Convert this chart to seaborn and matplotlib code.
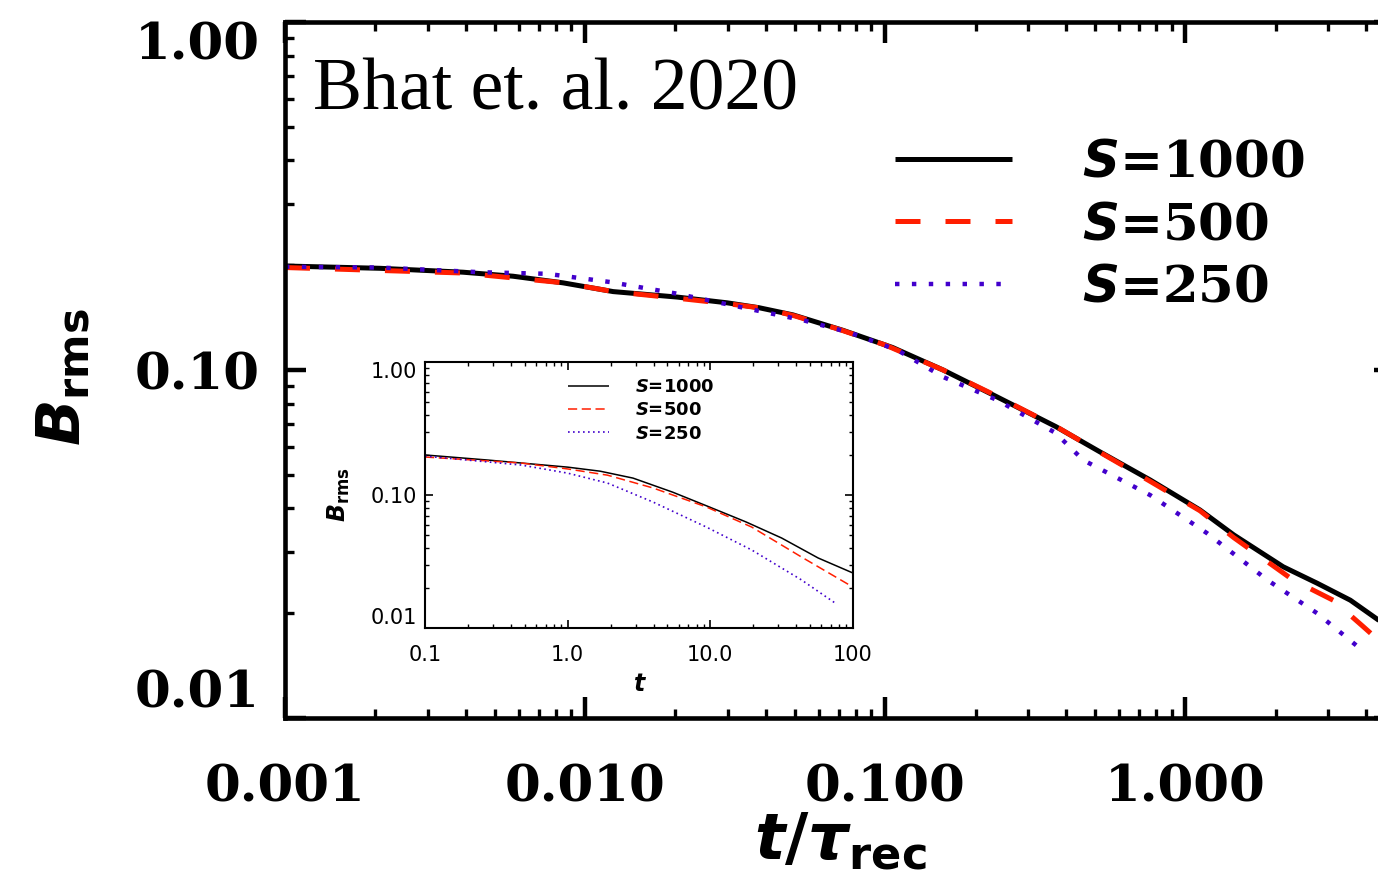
import numpy as np
import pandas as pd
import matplotlib
matplotlib.use("Agg")
import matplotlib.pyplot as plt
import seaborn as sns
from matplotlib.ticker import LogLocator, NullFormatter

# ---- data: B_rms decay for three Lundquist numbers ----
runs = ["1000", "500", "250"]

# main panel: time in units of the reconnection time
main_t_1000 = [0.001, 0.00207, 0.00392, 0.00575, 0.00845, 0.0124, 0.0203, 0.0297, 0.038, 0.0493,
               0.0724, 0.106, 0.156, 0.229, 0.37, 0.521, 0.764, 1.12, 1.45, 2.12, 2.75, 3.55, 4.45]
main_b_1000 = [0.199, 0.196, 0.191, 0.186, 0.178, 0.168, 0.162, 0.156, 0.151, 0.144,
               0.130, 0.116, 0.100, 0.0848, 0.0688, 0.0581, 0.0483, 0.0396, 0.0336, 0.0272, 0.0244, 0.0218, 0.0190]

main_t_500 = [0.001, 0.0039, 0.0085, 0.0124, 0.020, 0.030, 0.040, 0.050, 0.070, 0.100, 0.156,
              0.230, 0.380, 0.520, 0.760, 1.12, 1.45, 2.29, 3.11, 3.92, 4.45]
main_b_500 = [0.197, 0.190, 0.178, 0.168, 0.161, 0.155, 0.150, 0.143, 0.131, 0.118, 0.100,
              0.085, 0.068, 0.058, 0.048, 0.0394, 0.0330, 0.0249, 0.0218, 0.0183, 0.0166]

main_t_250 = [0.001, 0.00207, 0.00447, 0.00747, 0.0121, 0.020, 0.0363, 0.0533, 0.0764,
              0.110, 0.156, 0.236, 0.369, 0.457, 0.764, 1.18, 1.88, 2.75, 3.77]
main_b_250 = [0.198, 0.197, 0.191, 0.189, 0.179, 0.166, 0.149, 0.139, 0.128,
              0.114, 0.0955, 0.082, 0.066, 0.0551, 0.0437, 0.0340, 0.0249, 0.0200, 0.0160]

# inset: time in code units
ins_t_1000 = [0.1, 0.278, 1.0, 1.69, 2.87, 5.45, 9.84, 17.8, 31.6, 57.0, 100.0]
ins_b_1000 = [0.200, 0.183, 0.162, 0.151, 0.134, 0.105, 0.0813, 0.0627, 0.0475, 0.0336, 0.0259]

ins_t_500 = [0.1, 0.47, 1.0, 1.90, 3.96, 9.38, 19.5, 43.5, 100.0]
ins_b_500 = [0.193, 0.174, 0.157, 0.141, 0.113, 0.0813, 0.0574, 0.0342, 0.0203]

ins_t_250 = [0.1, 0.472, 1.0, 1.90, 3.96, 9.38, 19.5, 43.5, 75.0]
ins_b_250 = [0.196, 0.168, 0.146, 0.123, 0.0886, 0.0574, 0.0386, 0.0230, 0.0154]

main_xticks = [0.001, 0.01, 0.1, 1.0]
main_xticklabels = ["0.001", "0.010", "0.100", "1.000"]
yticks = [0.01, 0.1, 1.0]
yticklabels = ["0.01", "0.10", "1.00"]
ins_xticks = [0.1, 1.0, 10.0, 100.0]
ins_xticklabels = ["0.1", "1.0", "10.0", "100"]

colors = {"1000": "#000000", "500": "#ff1e00", "250": "#4200cc"}

sns.set_theme(style="white")
plt.rcParams.update({
    "font.family": ["DejaVu Serif"],
    "text.color": "black",
    "axes.labelcolor": "black",
    "xtick.color": "black",
    "ytick.color": "black",
    "axes.edgecolor": "black",
    "mathtext.fontset": "custom",
    "mathtext.it": "DejaVu Sans:italic:bold",
    "mathtext.rm": "DejaVu Sans:bold",
    "mathtext.bf": "DejaVu Sans:bold",
})

W, H = 1378, 894
fig = plt.figure(figsize=(W / 100, H / 100), dpi=100)
fig.patch.set_facecolor("white")


def draw(ax, t, b, run, ls, lw):
    df = pd.DataFrame({"t": t, "B": b})
    sns.lineplot(data=df, x="t", y="B", ax=ax, color=colors[run], linestyle=ls,
                 linewidth=lw, estimator=None, sort=False, legend=False)
    line = ax.get_lines()[-1]
    line.set_dash_capstyle("butt")
    line.set_solid_capstyle("butt")
    line.set_solid_joinstyle("round")
    line.set_label(r"$S$=" + run)
    return line


def style_axes(ax, spine_w, maj_len, min_len, maj_w, min_w):
    for s in ax.spines.values():
        s.set_linewidth(spine_w)
        s.set_color("black")
        s.set_visible(True)
    ax.tick_params(which="major", direction="in", length=maj_len, width=maj_w,
                   top=True, right=True, bottom=True, left=True, colors="black")
    ax.tick_params(which="minor", direction="in", length=min_len, width=min_w,
                   top=True, right=True, bottom=True, left=True, colors="black")
    ax.xaxis.set_minor_locator(LogLocator(base=10, subs=np.arange(2, 10), numticks=30))
    ax.yaxis.set_minor_locator(LogLocator(base=10, subs=np.arange(2, 10), numticks=30))
    ax.xaxis.set_minor_formatter(NullFormatter())
    ax.yaxis.set_minor_formatter(NullFormatter())


# ---------------- main panel ----------------
ax = fig.add_axes([285 / W, 176 / H, 1110 / W, 696 / H])
ax.set_facecolor("white")
ax.set_xscale("log")
ax.set_yscale("log")

h_main = [
    draw(ax, main_t_1000, main_b_1000, "1000", "-", 3.6),
    draw(ax, main_t_500, main_b_500, "500", (0, (5, 5)), 3.6),
    draw(ax, main_t_250, main_b_250, "250", (0, (1, 2.8)), 3.2),
]

ax.set_xlim(0.001, 5.0)
ax.set_ylim(0.01, 1.0)
style_axes(ax, 3.3, 15, 6.5, 3.2, 2.4)
ax.set_xticks(main_xticks, main_xticklabels, fontsize=37, fontweight="bold")
ax.set_yticks(yticks, yticklabels, fontsize=37, fontweight="bold")
ax.tick_params(axis="x", which="major", pad=33)
ax.tick_params(axis="y", which="major", pad=18)
ylabs = ax.get_yticklabels()
ylabs[0].set_va("bottom")
ylabs[2].set_va("top")

ax.set_xlabel(r"$t/\tau_{\rm rec}$", fontsize=46)
ax.xaxis.set_label_coords(0.5, -0.132)
ax.set_ylabel(r"$B_{\rm rms}$", fontsize=44)
ax.yaxis.set_label_coords(-0.172, 0.49)

ax.text(0.025, 0.8736, "Bhat et. al. 2020", transform=ax.transAxes,
        fontfamily="Liberation Serif", fontsize=53, va="baseline", ha="left",
        color="black")

ax.legend(handles=h_main, loc="upper left", bbox_to_anchor=(0.5495, 0.832),
          frameon=False, borderpad=0, borderaxespad=0, handlelength=2.28,
          handletextpad=1.36, labelspacing=0.26,
          prop={"family": "DejaVu Serif", "weight": "bold", "size": 37})

# ---------------- inset ----------------
ins = fig.add_axes([425 / W, 266 / H, 428 / W, 266 / H])
ins.set_facecolor("white")
ins.set_xscale("log")
ins.set_yscale("log")

h_ins = [
    draw(ins, ins_t_1000, ins_b_1000, "1000", "-", 1.1),
    draw(ins, ins_t_500, ins_b_500, "500", (0, (6, 3)), 1.1),
    draw(ins, ins_t_250, ins_b_250, "250", (0, (1, 2)), 1.2),
]

ins.set_xlim(0.1, 100.0)
ins.set_ylim(0.01, 1.0)
style_axes(ins, 1.5, 6, 3, 1.2, 1.0)
ins.set_xticks(ins_xticks, ins_xticklabels, fontsize=15, fontfamily="DejaVu Sans")
ins.set_yticks(yticks, yticklabels, fontsize=15, fontfamily="DejaVu Sans")
ins.tick_params(axis="x", which="major", pad=12)
ins.tick_params(axis="y", which="major", pad=6)
iylabs = ins.get_yticklabels()
iylabs[0].set_va("bottom")
iylabs[2].set_va("top")

ins.set_xlabel(r"$t$", fontsize=17)
ins.xaxis.set_label_coords(0.502, -0.17)
ins.set_ylabel(r"$B_{\rm rms}$", fontsize=17)
ins.yaxis.set_label_coords(-0.17, 0.5)

ins.legend(handles=h_ins, loc="upper left", bbox_to_anchor=(0.334, 0.94),
           frameon=False, borderpad=0, borderaxespad=0, handlelength=2.3,
           handletextpad=1.4, labelspacing=0.3,
           prop={"family": "DejaVu Sans", "weight": "bold", "size": 13})

fig.savefig("out.png", dpi=100)
